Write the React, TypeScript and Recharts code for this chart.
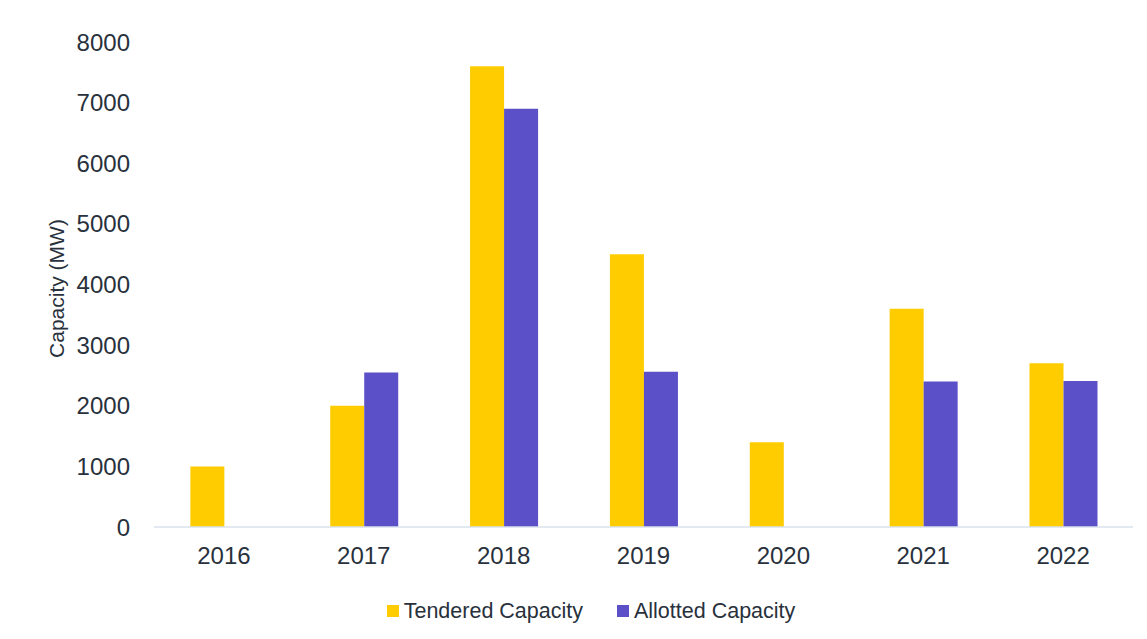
import { BarChart, Bar, XAxis, YAxis, Legend, Label } from "recharts";

const years = ["2016", "2017", "2018", "2019", "2020", "2021", "2022"];
const tendered = [1000, 2000, 7600, 4500, 1400, 3600, 2700];
const allotted = [0, 2550, 6900, 2560, 0, 2400, 2410];
const yTicks = [0, 1000, 2000, 3000, 4000, 5000, 6000, 7000, 8000];

const YELLOW = "#ffcc00";
const PURPLE = "#5b50c8";
const TEXT = "#28313c";
const FONT = "'Liberation Sans', Arial, sans-serif";

const data = years.map((year, i) => ({
  year,
  tendered: tendered[i],
  allotted: allotted[i] || null,
}));

function ChartLegend() {
  const items = [
    { label: "Tendered Capacity", color: YELLOW },
    { label: "Allotted Capacity", color: PURPLE },
  ];
  return (
    <div
      style={{
        height: 56,
        display: "flex",
        alignItems: "center",
        justifyContent: "center",
        gap: 34,
        paddingLeft: 49,
        fontFamily: FONT,
        fontSize: 21.5,
        color: TEXT,
      }}
    >
      {items.map((it) => (
        <div key={it.label} style={{ display: "flex", alignItems: "center" }}>
          <span style={{ width: 12, height: 12, background: it.color, marginRight: 5, display: "inline-block" }} />
          <span>{it.label}</span>
        </div>
      ))}
    </div>
  );
}

export default function App() {
  return (
    <div style={{ position: "absolute", left: 0, top: 0, width: 1147, height: 639, background: "#fff" }}>
      <BarChart
        width={1147}
        height={639}
        data={data}
        margin={{ top: 42, right: 14, left: 0, bottom: 0 }}
        barCategoryGap="26%"
        barGap={0}
      >
        <XAxis
          dataKey="year"
          height={56}
          tickLine={false}
          tickSize={0}
          tickMargin={20}
          axisLine={{ stroke: "#d9e2ec", strokeWidth: 1.5 }}
          tick={{ fill: TEXT, fontSize: 24, fontFamily: FONT }}
        />
        <YAxis
          width={154}
          domain={[0, 8000]}
          ticks={yTicks}
          axisLine={false}
          tickLine={false}
          tickSize={0}
          tickMargin={24}
          tick={{ fill: TEXT, fontSize: 24, fontFamily: FONT }}
        >
          <Label
            content={({ viewBox }: any) => {
              const cx = viewBox.x + 56;
              const cy = viewBox.y + viewBox.height / 2 + 4;
              return (
                <text
                  x={cx}
                  y={cy}
                  transform={`rotate(-90, ${cx}, ${cy})`}
                  textAnchor="middle"
                  dominantBaseline="central"
                  fill={TEXT}
                  fontSize={21}
                  fontFamily={FONT}
                >
                  Capacity (MW)
                </text>
              );
            }}
          />
        </YAxis>
        <Legend verticalAlign="bottom" content={<ChartLegend />} />
        <Bar dataKey="tendered" name="Tendered Capacity" fill={YELLOW} isAnimationActive={false} />
        <Bar dataKey="allotted" name="Allotted Capacity" fill={PURPLE} isAnimationActive={false} />
      </BarChart>
    </div>
  );
}
